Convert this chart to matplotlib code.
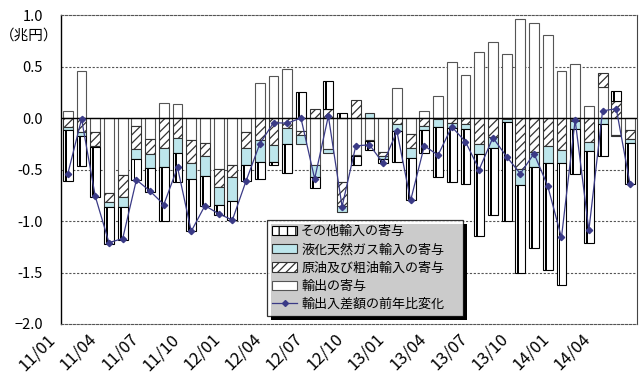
import numpy as np
import matplotlib
matplotlib.use("Agg")
import matplotlib.pyplot as plt
import matplotlib.transforms as mtrans
from matplotlib.patches import Patch, Rectangle
from matplotlib.lines import Line2D

plt.rcParams['font.family'] = ['Noto Sans CJK JP', 'DejaVu Sans']
plt.rcParams['hatch.linewidth'] = 0.9

# 寄与度（兆円）、2011年1月～2014年6月
exports = [0.07, 0.46, -0.14, -0.73, -0.55, -0.08, -0.20, 0.15, 0.135, -0.215,
           -0.245, -0.49, -0.455, -0.14, 0.345, 0.41, 0.48, -0.125, -0.46, -0.30,
           -0.62, -0.36, -0.215, -0.325, 0.29, -0.155, 0.07, 0.215, 0.54, 0.42,
           0.645, 0.74, 0.62, 0.96, 0.925, 0.81, 0.455, 0.525, 0.115, 0.30,
           -0.165, -0.115]
crude = [-0.09, -0.14, -0.13, -0.09, -0.22, -0.22, -0.145, -0.295, -0.19, -0.225,
         -0.125, -0.175, -0.12, -0.15, -0.215, -0.265, -0.10, -0.035, 0.085, 0.085,
         -0.235, 0.18, -0.01, -0.045, -0.06, -0.14, -0.08, -0.005, -0.05, -0.055,
         -0.25, -0.18, -0.005, -0.49, -0.325, -0.27, -0.31, -0.025, -0.23, 0.135,
         0.17, -0.09]
lng = [-0.025, -0.03, -0.015, -0.04, -0.09, -0.10, -0.14, -0.185, -0.145, -0.155,
       -0.195, -0.18, -0.235, -0.17, -0.215, -0.165, -0.155, -0.095, -0.11, -0.04,
       -0.055, -0.005, 0.05, -0.03, -0.065, -0.095, -0.04, -0.08, -0.05, -0.055,
       -0.095, -0.11, -0.03, -0.16, -0.155, -0.17, -0.13, -0.085, -0.09, -0.06,
       -0.01, -0.04]
other = [-0.50, -0.30, -0.48, -0.36, -0.32, -0.20, -0.23, -0.52, -0.285, -0.505,
         -0.285, -0.10, -0.18, -0.155, -0.16, -0.025, -0.275, 0.255, -0.105, 0.275,
         0.045, -0.09, -0.085, -0.04, -0.30, -0.41, -0.22, -0.49, -0.52, -0.535,
         -0.805, -0.65, -0.96, -0.85, -0.785, -1.035, -1.18, -0.435, -0.89, -0.31,
         0.095, -0.395]
balance = [-0.54, -0.01, -0.76, -1.21, -1.17, -0.60, -0.71, -0.84, -0.48, -1.10,
           -0.85, -0.93, -0.99, -0.61, -0.25, -0.045, -0.05, 0.00, -0.59, 0.02,
           -0.86, -0.27, -0.26, -0.44, -0.13, -0.80, -0.27, -0.36, -0.085, -0.23,
           -0.50, -0.19, -0.375, -0.54, -0.345, -0.66, -1.16, -0.02, -1.09, 0.07,
           0.09, -0.64]
tick_labels = ['11/01', '11/04', '11/07', '11/10', '12/01', '12/04', '12/07',
               '12/10', '13/01', '13/04', '13/07', '13/10', '14/01', '14/04']

x = np.arange(len(exports))
w = 0.72
blue = '#bde6ec'

fig = plt.figure(figsize=(6.42, 3.74), dpi=100)
ax = fig.add_axes([0.095, 0.1337, 0.897, 0.826])

# 正負それぞれ積み上げ（輸出→原油→LNG→その他）
pos = np.zeros(len(x))
neg = np.zeros(len(x))
styles = [
    (exports, dict(color='white', edgecolor='#555555')),
    (crude, dict(color='white', edgecolor='#333333', hatch='////')),
    (lng, dict(color=blue, edgecolor='#333333')),
    (other, dict(color='white', edgecolor='black')),
]
for vals, kw in styles:
    v = np.array(vals)
    bottom = np.where(v >= 0, pos, neg)
    ax.bar(x, v, w, bottom=bottom, linewidth=0.8, zorder=2, **kw)
    if vals is other:
        # その他輸入は内側に黒い縦線
        ax.bar(x - 0.14, v, 0.14, bottom=bottom, color='black', linewidth=0, zorder=3)
    pos = pos + np.where(v >= 0, v, 0)
    neg = neg + np.where(v < 0, v, 0)

ax.plot(x, balance, color='#3a3a86', lw=0.9, marker='D', ms=3.2, zorder=4)
ax.axhline(0, color='black', lw=1.0, zorder=3)

ax.set_xlim(-0.5, len(x) - 0.5)
ax.set_ylim(-2.0, 1.0)
ax.set_yticks([1.0, 0.5, 0.0, -0.5, -1.0, -1.5, -2.0])
ax.set_yticklabels(['1.0', '0.5', '0.0', '-0.5', '-1.0', '-1.5', '−2.0'])
ax.tick_params(axis='y', length=0, pad=13, labelsize=10.5)
for yv in [0.5, -0.5, -1.0, -1.5]:
    ax.axhline(yv, color='#555555', lw=0.8, ls=(0, (2, 1.5)), zorder=1)

ax.set_xticks(x[::3])
ax.set_xticklabels(tick_labels, rotation=45, ha='right', va='center',
                   rotation_mode='anchor', fontsize=12)
ax.tick_params(axis='x', length=0, pad=9)
for lab in ax.get_xticklabels():
    lab.set_transform(lab.get_transform() + mtrans.ScaledTranslation(-15 / 100, 0, fig.dpi_scale_trans))

ax.spines['left'].set_linewidth(1.0)
ax.spines['right'].set_color('#444444')
ax.spines['right'].set_linewidth(0.8)
for s in ['top', 'bottom']:
    ax.spines[s].set_linestyle((0, (2, 1.5)))
    ax.spines[s].set_color('#555555')
    ax.spines[s].set_linewidth(0.8)

fig.text(0.0, 0.905, '（兆円）', fontsize=10.5, va='center')

handles = [
    Patch(facecolor='white', edgecolor='black', hatch='||', lw=0.8),
    Patch(facecolor=blue, edgecolor='#333333', lw=0.8),
    Patch(facecolor='white', edgecolor='#333333', hatch='////', lw=0.8),
    Patch(facecolor='white', edgecolor='#555555', lw=0.8),
    Line2D([], [], color='#3a3a86', lw=0.9, marker='D', ms=3),
]
labels = ['その他輸入の寄与', '液化天然ガス輸入の寄与', '原油及び粗油輸入の寄与',
          '輸出の寄与', '輸出入差額の前年比変化']
leg = ax.legend(handles, labels, loc='lower left',
                bbox_to_anchor=(0.358, 0.025, 0.34, 0.3), mode='expand',
                fontsize=9.4, frameon=True, fancybox=False, edgecolor='black',
                handlelength=1.9, handleheight=0.7, handletextpad=0.3,
                labelspacing=0.4, borderpad=0.4, borderaxespad=0)
leg.get_frame().set_linewidth(0.9)
leg.set_zorder(6)

# 凡例の影（右下に4px）
fig.canvas.draw()
bb = leg.get_window_extent().transformed(ax.transAxes.inverted())
dx, dy = 4 / (0.897 * 642), 4 / (0.826 * 374)
shadow = Rectangle((bb.x0 + dx, bb.y0 - dy), bb.width, bb.height, facecolor='black',
                   edgecolor='none', transform=ax.transAxes, clip_on=False, zorder=5)
ax.add_patch(shadow)

fig.savefig('out.png', dpi=100)
